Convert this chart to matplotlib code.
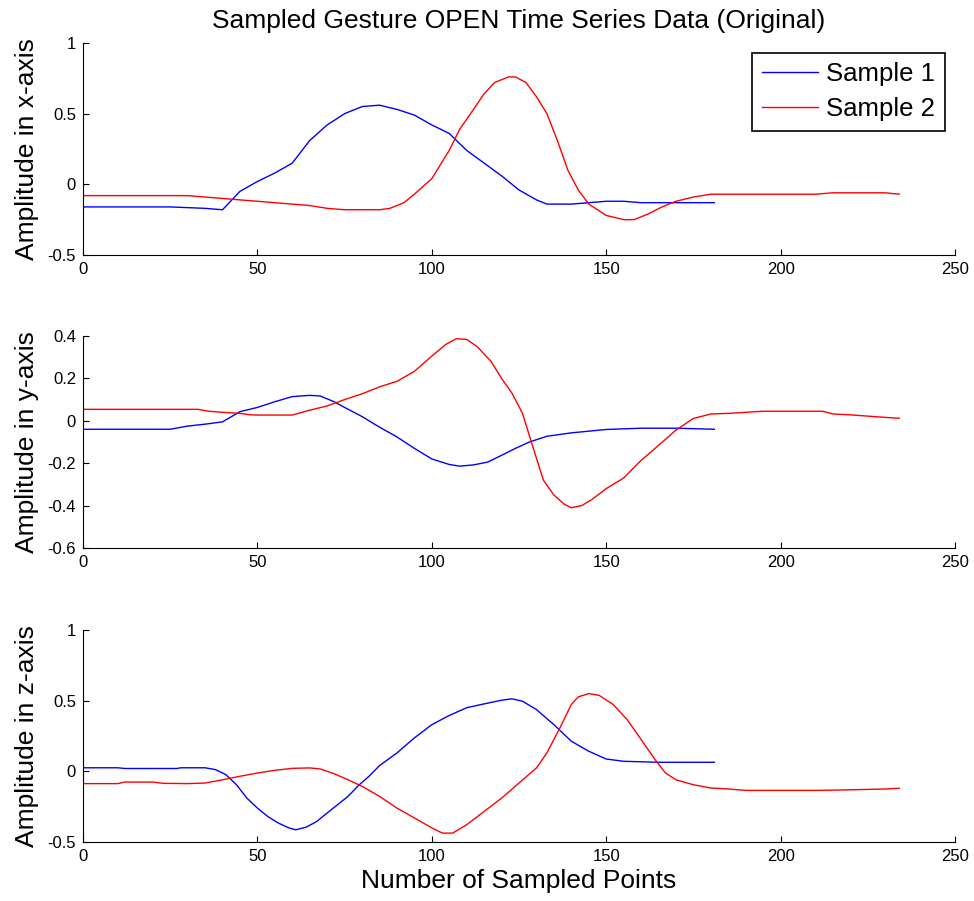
import numpy as np
import matplotlib
matplotlib.use("Agg")
from matplotlib import pyplot as plt

# values (x = sample index)
x_blue = [0, 25, 35, 40, 45, 50, 55, 60, 65, 70, 75, 80, 85, 90, 95, 100, 105, 110, 115, 120, 125, 130, 133, 140, 145, 150, 155, 160, 181]
x_s1 = [-0.16, -0.16, -0.17, -0.18, -0.05, 0.02, 0.08, 0.15, 0.31, 0.42, 0.50, 0.55, 0.56, 0.53, 0.49, 0.42, 0.36, 0.24, 0.15, 0.06, -0.04, -0.11, -0.14, -0.14, -0.13, -0.12, -0.12, -0.13, -0.13]

x_red = [0, 30, 35, 40, 45, 50, 55, 60, 65, 70, 75, 85, 88, 92, 95, 100, 105, 108, 110, 115, 118, 122, 124, 127, 130, 133, 136, 139, 142, 145, 150, 155, 158, 162, 166, 170, 175, 180, 185, 210, 215, 230, 234]
x_s2 = [-0.08, -0.08, -0.09, -0.10, -0.11, -0.12, -0.13, -0.14, -0.15, -0.17, -0.18, -0.18, -0.17, -0.13, -0.07, 0.04, 0.24, 0.39, 0.46, 0.64, 0.72, 0.76, 0.76, 0.72, 0.62, 0.50, 0.31, 0.10, -0.04, -0.14, -0.22, -0.25, -0.25, -0.21, -0.16, -0.12, -0.09, -0.07, -0.07, -0.07, -0.06, -0.06, -0.07]

y_blue = [0, 25, 30, 35, 40, 45, 50, 55, 60, 65, 68, 72, 75, 80, 85, 90, 95, 100, 105, 108, 112, 116, 120, 124, 128, 133, 140, 150, 160, 170, 181]
y_s1 = [-0.04, -0.04, -0.025, -0.016, -0.005, 0.043, 0.063, 0.09, 0.114, 0.12, 0.117, 0.09, 0.063, 0.02, -0.03, -0.076, -0.13, -0.18, -0.206, -0.214, -0.208, -0.195, -0.163, -0.13, -0.10, -0.073, -0.057, -0.041, -0.035, -0.035, -0.04]

y_red = [0, 33, 36, 40, 45, 48, 50, 60, 65, 70, 75, 80, 85, 90, 95, 100, 104, 107, 110, 113, 117, 120, 123, 126, 129, 132, 135, 138, 140, 143, 146, 150, 155, 160, 165, 170, 175, 180, 185, 190, 195, 212, 215, 220, 225, 230, 234]
y_s2 = [0.054, 0.054, 0.045, 0.04, 0.035, 0.028, 0.027, 0.027, 0.05, 0.07, 0.10, 0.127, 0.16, 0.186, 0.233, 0.305, 0.36, 0.387, 0.384, 0.35, 0.28, 0.20, 0.13, 0.035, -0.124, -0.28, -0.35, -0.394, -0.41, -0.40, -0.37, -0.32, -0.27, -0.187, -0.116, -0.044, 0.011, 0.032, 0.035, 0.04, 0.045, 0.045, 0.032, 0.028, 0.022, 0.016, 0.012]

z_blue = [0, 10, 12, 27, 28, 35, 38, 41, 44, 47, 50, 53, 56, 59, 61, 64, 67, 70, 73, 76, 79, 82, 85, 90, 95, 100, 105, 110, 115, 120, 123, 126, 130, 135, 140, 145, 150, 155, 165, 181]
z_s1 = [0.025, 0.025, 0.02, 0.02, 0.025, 0.025, 0.012, -0.024, -0.095, -0.19, -0.26, -0.32, -0.366, -0.40, -0.414, -0.395, -0.355, -0.295, -0.236, -0.177, -0.10, -0.035, 0.04, 0.13, 0.236, 0.33, 0.395, 0.45, 0.477, 0.503, 0.513, 0.496, 0.437, 0.33, 0.213, 0.142, 0.087, 0.071, 0.064, 0.064]

z_red = [0, 10, 12, 20, 23, 30, 35, 40, 45, 50, 55, 60, 65, 68, 72, 76, 80, 85, 90, 95, 100, 103, 106, 110, 115, 120, 125, 130, 133, 137, 140, 142, 145, 148, 152, 156, 160, 164, 167, 170, 175, 180, 185, 190, 210, 218, 230, 234]
z_s2 = [-0.087, -0.087, -0.076, -0.076, -0.085, -0.087, -0.083, -0.06, -0.035, -0.012, 0.007, 0.021, 0.024, 0.017, -0.017, -0.06, -0.106, -0.177, -0.26, -0.33, -0.40, -0.437, -0.437, -0.378, -0.284, -0.19, -0.083, 0.024, 0.13, 0.32, 0.473, 0.527, 0.55, 0.537, 0.473, 0.366, 0.225, 0.083, -0.012, -0.06, -0.095, -0.118, -0.125, -0.135, -0.135, -0.132, -0.125, -0.12]

panels = [
    (x_blue, x_s1, x_red, x_s2, "Amplitude in x-axis", (-0.5, 1), [-0.5, 0, 0.5, 1], ["-0.5", "0", "0.5", "1"]),
    (y_blue, y_s1, y_red, y_s2, "Amplitude in y-axis", (-0.6, 0.4), [-0.6, -0.4, -0.2, 0, 0.2, 0.4], ["-0.6", "-0.4", "-0.2", "0", "0.2", "0.4"]),
    (z_blue, z_s1, z_red, z_s2, "Amplitude in z-axis", (-0.5, 1), [-0.5, 0, 0.5, 1], ["-0.5", "0", "0.5", "1"]),
]

fam = ["Liberation Sans", "DejaVu Sans"]

fig = plt.figure(figsize=(9.74, 9.01), dpi=100)
boxes = [[0.0852, 0.717, 0.8953, 0.2353],
         [0.0852, 0.3918, 0.8953, 0.2353],
         [0.0852, 0.0655, 0.8953, 0.2353]]

axes = []
for box, (bx, by, rx, ry, lab, lim, ticks, tlabels) in zip(boxes, panels):
    ax = fig.add_axes(box)
    ax.plot(bx, by, color="blue", lw=1.0, label="Sample 1")
    ax.plot(rx, ry, color="red", lw=1.0, label="Sample 2")
    ax.set_xlim(0, 250)
    ax.set_ylim(*lim)
    ax.set_xticks([0, 50, 100, 150, 200, 250])
    ax.set_xticklabels(["0", "50", "100", "150", "200", "250"], family=fam, fontsize=12)
    ax.set_yticks(ticks)
    ax.set_yticklabels(tlabels, family=fam, fontsize=12)
    ax.spines["top"].set_visible(False)
    ax.spines["right"].set_visible(False)
    ax.tick_params(direction="in", length=4, width=0.8, pad=5)
    ax.set_ylabel(lab, family=fam, fontsize=19, labelpad=6)
    axes.append(ax)

axes[0].set_title("Sampled Gesture OPEN Time Series Data (Original)", family=fam, fontsize=19, pad=11)
axes[0].legend(loc="upper right", bbox_to_anchor=(0.9883, 0.955), prop={"family": fam, "size": 18.5},
               fancybox=False, edgecolor="black", framealpha=1, handlelength=2.2,
               handletextpad=0.3, borderpad=0.38, labelspacing=0.42, borderaxespad=0)
axes[0].get_legend().get_frame().set_linewidth(1.2)
axes[2].set_xlabel("Number of Sampled Points", family=fam, fontsize=19)

fig.savefig("out.png", dpi=100)
